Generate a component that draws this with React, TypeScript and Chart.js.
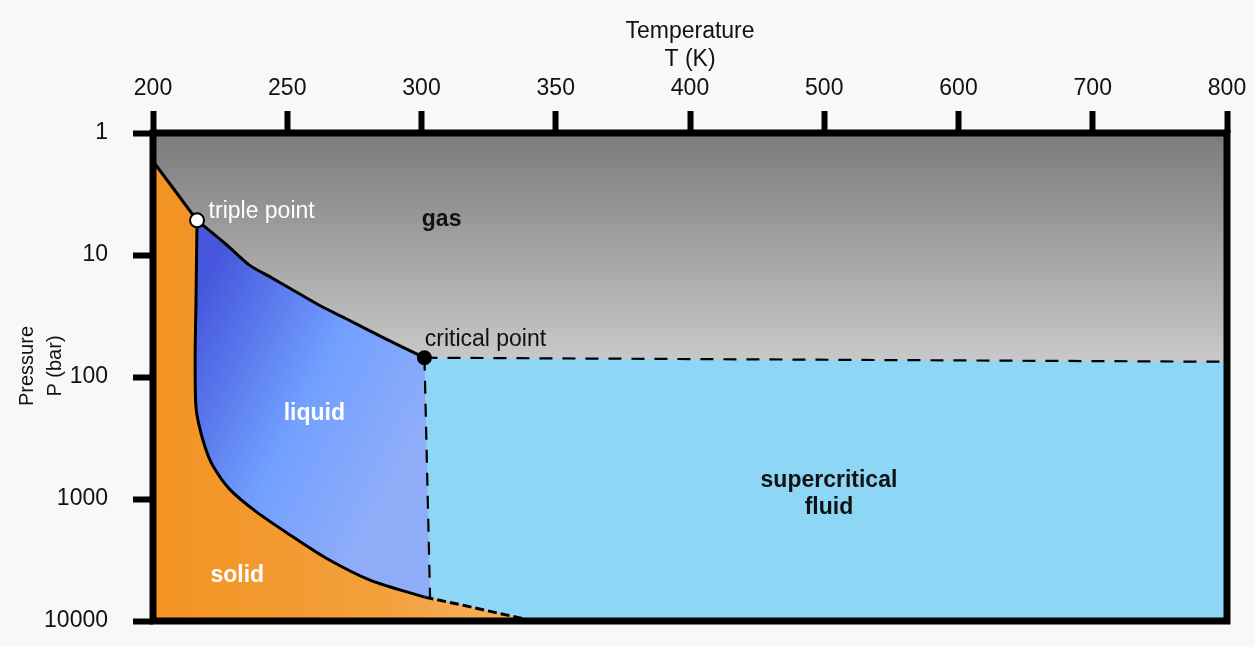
import React, { useEffect, useRef } from 'react';
import { Chart, registerables } from 'chart.js';

Chart.register(...registerables);

// ---- axis ticks ----
const TEMP_TICKS = [200, 250, 300, 350, 400, 500, 600, 700, 800]; // K, evenly spaced on the axis
const PRESSURE_TICKS = [1, 10, 100, 1000, 10000]; // bar, log axis

// ---- special points (T in K, P in bar) ----
const TRIPLE_POINT = { t: 216.4, p: 5.2 };
const CRITICAL_POINT = { t: 301.1, p: 69.5 };

// ---- phase boundaries ----
// solid / gas (sublimation)
const SUBLIMATION_T = [200, 216.4];
const SUBLIMATION_P = [1.7, 5.2];

// liquid / gas (boiling), triple point -> critical point
const BOILING_T = [216.4, 227.3, 235.9, 244.5, 253.2, 261.8, 271.6, 286.3, 301.1];
const BOILING_P = [5.2, 8.2, 12.1, 15.5, 20.0, 25.7, 33.0, 48.2, 69.5];

// solid / liquid (melting), triple point -> critical temperature
const MELTING_T = [216.4, 216.0, 215.7, 215.9, 216.8, 219.3, 222.3, 228.5, 238.4, 250.7, 264.2, 281.3, 301.1];
const MELTING_P = [5.2, 25, 65, 165, 230, 370, 535, 830, 1270, 1950, 3030, 4670, 6370];

// solid / supercritical fluid (melting above the critical temperature)
const MELTING_HIGH_T = [301.1, 315.6, 328.9, 342.1];
const MELTING_HIGH_P = [6370, 7430, 8670, 10000];

// critical isotherm and critical isobar
const ISOTHERM_T = [301.1, 303.2];
const ISOTHERM_P = [69.5, 6500];
const ISOBAR_T = [301.1, 800];
const ISOBAR_P = [69.5, 75];

// ---- axis titles ----
const X_TITLE = ['Temperature', 'T (K)'];
const Y_TITLE = ['Pressure', 'P (bar)'];

// ---- region / point labels, anchored in (T, P) ----
const LABELS = [
  { lines: ['gas'], t: 307.5, p: 5.1, bold: true, color: '#111111', align: 'center' },
  { lines: ['liquid'], t: 260.1, p: 201, bold: true, color: '#ffffff', align: 'center' },
  { lines: ['solid'], t: 231.4, p: 4260, bold: true, color: '#ffffff', align: 'center' },
  { lines: ['supercritical', 'fluid'], t: 503.5, p: 705, bold: true, color: '#111111', align: 'center' },
  { lines: ['triple point'], t: 220.7, p: 4.4, bold: false, color: '#ffffff', align: 'left' },
  { lines: ['critical point'], t: 301.2, p: 49.8, bold: false, color: '#111111', align: 'left' },
];

const FONT = "'Liberation Sans', Arial, Helvetica, sans-serif";
const T_MIN = TEMP_TICKS[0];
const T_MAX = TEMP_TICKS[TEMP_TICKS.length - 1];
const P_MIN = PRESSURE_TICKS[0];
const P_MAX = PRESSURE_TICKS[PRESSURE_TICKS.length - 1];

// temperature -> position on the piecewise temperature axis
function tempToIndex(t: number): number {
  const n = TEMP_TICKS.length;
  for (let i = 0; i < n - 1; i++) {
    const a = TEMP_TICKS[i];
    const b = TEMP_TICKS[i + 1];
    if (t <= b || i === n - 2) return i + (t - a) / (b - a);
  }
  return 0;
}

type Pt = { x: number; y: number };
const pt = (t: number, p: number): Pt => ({ x: tempToIndex(t), y: p });
const curve = (ts: number[], ps: number[]): Pt[] => ts.map((t, i) => pt(t, ps[i]));
const rev = <T,>(a: T[]): T[] => a.slice().reverse();

const sublimation = curve(SUBLIMATION_T, SUBLIMATION_P);
const boiling = curve(BOILING_T, BOILING_P);
const melting = curve(MELTING_T, MELTING_P);
const meltingHigh = curve(MELTING_HIGH_T, MELTING_HIGH_P);
const isotherm = curve(ISOTHERM_T, ISOTHERM_P);
const isobar = curve(ISOBAR_T, ISOBAR_P);

// closed regions
const gasRegion: Pt[] = [
  pt(T_MIN, P_MIN),
  pt(T_MAX, P_MIN),
  isobar[isobar.length - 1],
  ...rev(boiling),
  ...rev(sublimation),
];
const supercriticalRegion: Pt[] = [
  ...isobar,
  pt(T_MAX, P_MAX),
  ...rev(meltingHigh).slice(0, -1),
  ...rev(isotherm),
];
const liquidRegion: Pt[] = [...boiling, isotherm[isotherm.length - 1], ...rev(melting)];
const solidRegion: Pt[] = [
  ...sublimation,
  ...melting.slice(1),
  ...meltingHigh.slice(1),
  pt(T_MIN, P_MAX),
];

function px(chart: any, t: number, p: number) {
  return {
    x: chart.scales.x.getPixelForValue(tempToIndex(t)),
    y: chart.scales.y.getPixelForValue(p),
  };
}

function gasFill(chart: any) {
  const { ctx, chartArea } = chart;
  if (!chartArea) return '#a0a0a0';
  const end = px(chart, T_MAX, ISOBAR_P[ISOBAR_P.length - 1]).y;
  const g = ctx.createLinearGradient(0, chartArea.top, 0, end);
  g.addColorStop(0, '#7b7b7b');
  g.addColorStop(1, '#c9c9c9');
  return g;
}

function liquidFill(chart: any) {
  const { ctx, chartArea } = chart;
  if (!chartArea) return '#70a0ff';
  const a = px(chart, 215, 25);
  const b = px(chart, 302, 240);
  const g = ctx.createLinearGradient(a.x, a.y, b.x, b.y);
  g.addColorStop(0, '#4657dd');
  g.addColorStop(0.55, '#72a0ff');
  g.addColorStop(1, '#90adf9');
  return g;
}

function solidFill(chart: any) {
  const { ctx, chartArea } = chart;
  if (!chartArea) return '#f39424';
  const right = px(chart, 342, P_MAX).x;
  const g = ctx.createLinearGradient(chartArea.left, 0, right, 0);
  g.addColorStop(0, '#f39322');
  g.addColorStop(0.6, '#f3a03c');
  g.addColorStop(1, '#f5b565');
  return g;
}

// lower `order` is painted on top
const regionDataset = (label: string, data: Pt[], bg: any, order: number) => ({
  label,
  data,
  order,
  fill: 'shape',
  backgroundColor: bg,
  borderColor: 'rgba(0,0,0,0)',
  borderWidth: 0,
  pointRadius: 0,
  tension: 0,
});

const strokeDataset = (label: string, data: Pt[], width: number, dash: number[] = []) => ({
  label,
  data,
  order: 2,
  fill: false,
  borderColor: '#000000',
  borderWidth: width,
  borderDash: dash,
  pointRadius: 0,
  tension: dash.length ? 0 : 0.25,
  borderCapStyle: 'butt',
  borderJoinStyle: 'round',
});

const phasePlugin = {
  id: 'phaseDiagram',
  beforeDatasetsDraw(chart: any) {
    const { ctx, chartArea } = chart;
    ctx.save();
    ctx.fillStyle = gasFill(chart);
    ctx.fillRect(chartArea.left, chartArea.top, chartArea.right - chartArea.left, chartArea.bottom - chartArea.top);
    ctx.restore();
  },
  afterDatasetsDraw(chart: any) {
    const { ctx, chartArea } = chart;
    ctx.save();
    for (const l of LABELS) {
      const pos = px(chart, l.t, l.p);
      ctx.font = `${l.bold ? 'bold ' : ''}23px ${FONT}`;
      ctx.fillStyle = l.color;
      ctx.textAlign = l.align as CanvasTextAlign;
      ctx.textBaseline = 'middle';
      l.lines.forEach((s, i) => ctx.fillText(s, pos.x, pos.y + i * 27));
    }

    // rotated pressure-axis title, two lines
    ctx.font = `20px ${FONT}`;
    ctx.fillStyle = '#111111';
    ctx.textAlign = 'center';
    ctx.textBaseline = 'middle';
    const midY = (chartArea.top + chartArea.bottom) / 2 - 11;
    Y_TITLE.forEach((s, i) => {
      ctx.save();
      ctx.translate(27 + i * 28, midY);
      ctx.rotate(-Math.PI / 2);
      ctx.fillText(s, 0, 0);
      ctx.restore();
    });

    // plot frame
    ctx.strokeStyle = '#000000';
    ctx.lineWidth = 7;
    ctx.strokeRect(chartArea.left, chartArea.top, chartArea.right - chartArea.left, chartArea.bottom - chartArea.top);
    ctx.restore();
  },
};

export default function App() {
  const canvasRef = useRef<HTMLCanvasElement | null>(null);

  useEffect(() => {
    const canvas = canvasRef.current;
    if (!canvas) return;

    const chart = new Chart(canvas, {
      type: 'line',
      data: {
        datasets: [
          {
            label: 'triple point',
            data: [pt(TRIPLE_POINT.t, TRIPLE_POINT.p)],
            order: 0,
            showLine: false,
            pointRadius: 7,
            pointBackgroundColor: '#ffffff',
            pointBorderColor: '#000000',
            pointBorderWidth: 2,
          },
          {
            label: 'critical point',
            data: [pt(CRITICAL_POINT.t, CRITICAL_POINT.p)],
            order: 0,
            showLine: false,
            pointRadius: 7.5,
            pointBackgroundColor: '#000000',
            pointBorderColor: '#000000',
            pointBorderWidth: 0,
          },
          strokeDataset('sublimation', sublimation, 3),
          strokeDataset('boiling', boiling, 3),
          strokeDataset('melting', melting, 3),
          strokeDataset('melting (supercritical)', meltingHigh, 3, [9, 4]),
          strokeDataset('critical isotherm', isotherm, 2.2, [13, 10]),
          strokeDataset('critical isobar', isobar, 2.2, [13, 10]),
          regionDataset('solid', solidRegion, (c: any) => solidFill(c.chart), 7),
          regionDataset('liquid', liquidRegion, (c: any) => liquidFill(c.chart), 8),
          regionDataset('supercritical fluid', supercriticalRegion, '#8ed6f5', 9),
          regionDataset('gas', gasRegion, (c: any) => gasFill(c.chart), 10),
        ] as any,
      },
      options: {
        responsive: false,
        animation: false,
        events: [],
        layout: { padding: { left: 0, right: 28, top: 0, bottom: 26 } },
        plugins: {
          legend: { display: false },
          tooltip: { enabled: false },
        },
        scales: {
          x: {
            type: 'linear',
            position: 'top',
            min: 0,
            max: TEMP_TICKS.length - 1,
            afterBuildTicks: (axis: any) => {
              axis.ticks = TEMP_TICKS.map((_, i) => ({ value: i }));
            },
            afterFit: (axis: any) => {
              axis.height = 133;
              axis.paddingLeft = 0;
              axis.paddingRight = 0;
            },
            ticks: {
              autoSkip: false,
              maxRotation: 0,
              padding: 9,
              color: '#111111',
              font: { family: FONT, size: 23 },
              callback: (v: any) => String(TEMP_TICKS[Math.round(Number(v))]),
            },
            grid: {
              display: true,
              drawOnChartArea: false,
              drawTicks: true,
              tickLength: 22,
              tickWidth: 6,
              tickColor: '#000000',
            },
            border: { display: false },
            title: {
              display: true,
              text: X_TITLE,
              color: '#111111',
              font: { family: FONT, size: 23, lineHeight: 1.2 },
              padding: { top: 18, bottom: 0 },
            },
          },
          y: {
            type: 'logarithmic',
            reverse: true,
            min: P_MIN,
            max: P_MAX,
            afterBuildTicks: (axis: any) => {
              axis.ticks = PRESSURE_TICKS.map((v) => ({ value: v }));
            },
            afterFit: (axis: any) => {
              axis.width = 153;
              axis.paddingTop = 0;
              axis.paddingBottom = 0;
            },
            ticks: {
              autoSkip: false,
              padding: 25,
              color: '#111111',
              font: { family: FONT, size: 23 },
              callback: (v: any) => String(v),
            },
            grid: {
              display: true,
              drawOnChartArea: false,
              drawTicks: true,
              tickLength: 20,
              tickWidth: 6,
              tickColor: '#000000',
            },
            border: { display: false },
            title: { display: false },
          },
        },
      } as any,
      plugins: [phasePlugin],
    });

    return () => chart.destroy();
  }, []);

  return (
    <div
      style={{
        position: 'fixed',
        left: 0,
        top: 0,
        width: 1255,
        height: 647,
        background: '#f8f8f8',
      }}
    >
      <canvas ref={canvasRef} width={1255} height={647} style={{ display: 'block' }} />
    </div>
  );
}
